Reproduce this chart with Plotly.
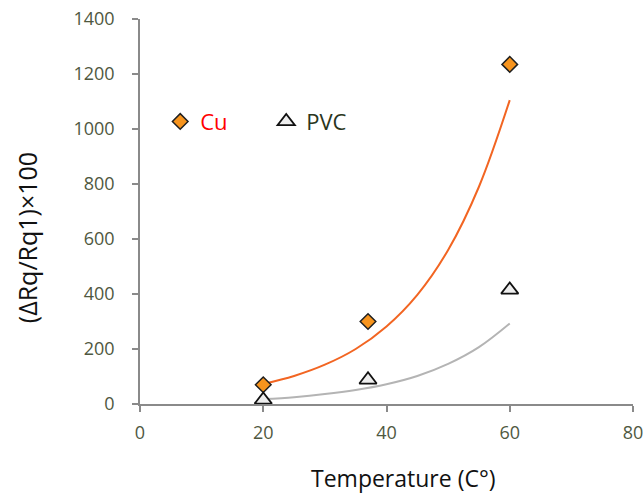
import plotly.graph_objects as go

# ---- data ----
temps = [20, 37, 60]
cu_values = [70, 300, 1235]
pvc_values = [15, 88, 415]

trend_x = [20, 25, 30, 35, 40, 45, 50, 55, 60]
cu_trend = [73, 102, 143, 200, 282, 397, 560, 790, 1105]
pvc_trend = [18, 25, 36, 51, 72, 102, 146, 207, 293]

x_ticks = [0, 20, 40, 60, 80]
y_ticks = [0, 200, 400, 600, 800, 1000, 1200, 1400]

FONT = "Open Sans"
TICK_COLOR = "#4f583f"
AXIS_COLOR = "#8a8a8a"

fig = go.Figure()

fig.add_trace(go.Scatter(
    x=trend_x, y=cu_trend, mode="lines", line=dict(color="#f26522", width=2, shape="spline"),
    showlegend=False, hoverinfo="skip"))
fig.add_trace(go.Scatter(
    x=trend_x, y=pvc_trend, mode="lines", line=dict(color="#b4b4b4", width=2, shape="spline"),
    showlegend=False, hoverinfo="skip"))

fig.add_trace(go.Scatter(
    x=temps, y=cu_values, mode="markers",
    name='<span style="color:#ff0000">Cu</span>',
    marker=dict(symbol="diamond", size=12, color="#f7941d",
                line=dict(color="#1f1f1f", width=1.5))))
fig.add_trace(go.Scatter(
    x=temps, y=pvc_values, mode="markers",
    name='<span style="color:#2a3520">PVC</span>',
    marker=dict(symbol="triangle-up", size=15, color="#eeeeee",
                line=dict(color="#111111", width=1.8))))

axis_common = dict(
    showline=True, linecolor=AXIS_COLOR, linewidth=1.5,
    ticks="outside", ticklen=6, tickcolor=AXIS_COLOR, tickwidth=1.5,
    showgrid=False, zeroline=False, automargin=False,
    tickfont=dict(family=FONT, size=18, color=TICK_COLOR),
)

fig.update_xaxes(range=[0, 80], tickvals=x_ticks, ticklabelstandoff=6, **axis_common)
fig.update_yaxes(range=[0, 1400], tickvals=y_ticks, ticklabelstandoff=14, **axis_common)

fig.update_layout(
    width=644, height=496,
    margin=dict(l=140, r=11, t=19, b=92),
    plot_bgcolor="white", paper_bgcolor="white",
    font=dict(family=FONT),
    legend=dict(
        orientation="h", x=0.041, y=0.788, xanchor="left", yanchor="top",
        font=dict(family=FONT, size=22), entrywidth=61, entrywidthmode="pixels",
        bgcolor="rgba(0,0,0,0)", itemclick=False,
    ),
    annotations=[
        dict(text="Temperature (C°)", xref="paper", yref="paper", x=0.5335, y=-0.236,
             showarrow=False, font=dict(family=FONT, size=23, color="#111111"),
             xanchor="center", yanchor="bottom", borderpad=0),
        dict(text="(ΔRq/Rq1)×100", xref="paper", yref="paper", x=-0.229, y=0.431,
             showarrow=False, textangle=-90, font=dict(family=FONT, size=25, color="#111111"),
             xanchor="center", yanchor="middle"),
    ],
)

fig.write_html("out.html")
